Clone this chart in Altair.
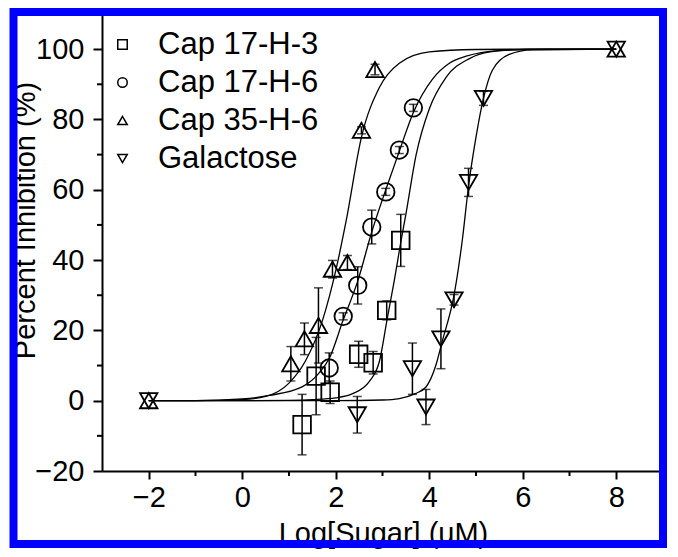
import altair as alt
import pandas as pd

series_names = ["Cap 17-H-3", "Cap 17-H-6", "Cap 35-H-6", "Galactose"]
shapes = ["square", "circle", "triangle-up", "triangle-down"]
marker_sizes = [165, 215, 310, 300]

# measured points (Log[Sugar], % inhibition, error)
sq_x = [1.28, 1.58, 1.88, 2.49, 2.80, 3.09, 3.39]
sq_y = [-6.8, 7.0, 2.4, 13.2, 10.8, 25.7, 45.6]
sq_err = [8.6, 11.0, 3.2, 3.7, 3.2, 2.7, 7.4]

ci_x = [1.86, 2.16, 2.47, 2.77, 3.07, 3.36, 3.66]
ci_y = [9.3, 24.0, 32.8, 49.4, 59.4, 71.3, 83.3]
ci_err = [4.3, 1.0, 5.3, 4.8, 1.0, 1.0, 1.0]

tu_x = [-2, 1.04, 1.33, 1.63, 1.93, 2.25, 2.55, 2.84, 8]
tu_y = [0, 10.5, 17.6, 21.4, 37.4, 39.3, 76.9, 94.2, 100]
tu_err = [0, 4.9, 4.5, 10.7, 2.5, 2.0, 1.0, 1.5, 0]

gd_x = [-2, 2.46, 3.64, 3.93, 4.25, 4.53, 4.84, 5.16, 8]
gd_y = [0, -4.0, 9.1, -1.8, 17.6, 28.7, 62.1, 86.0, 100]
gd_err = [0, 5.2, 7.3, 5.0, 8.5, 1.5, 4.0, 2.0, 0]

# fitted curves
c_sq_x = [-2, 0, 1.0, 1.5, 2.0, 2.36, 2.72, 2.93, 3.11, 3.25, 3.39, 3.5, 3.72, 4.0, 4.36, 4.86, 5.3, 6.0, 8]
c_sq_y = [0, 0, 0.1, 0.3, 0.8, 2.0, 5.5, 11, 24, 34, 45, 53, 70, 83, 92, 97.3, 99.2, 99.9, 100]

c_ci_x = [-2, -1, 0, 0.58, 1.29, 1.65, 1.86, 2.16, 2.47, 2.77, 3.07, 3.36, 3.66, 4.07, 4.43, 4.79, 5.5, 6.5, 8]
c_ci_y = [0, 0, 0.5, 1.5, 4.0, 8.0, 12, 23, 34, 48, 60, 71, 82, 91.5, 96, 98, 99.6, 100, 100]

c_tu_x = [-2, -1, 0, 0.5, 1.0, 1.36, 1.72, 2.0, 2.22, 2.55, 2.93, 3.36, 4.0, 5.0, 6.0, 8.0]
c_tu_y = [0, 0, 0.3, 1.2, 5.0, 11.5, 23, 37, 51, 75, 89, 96, 99.2, 99.9, 100, 100]

c_gd_x = [-2, 0, 2, 3, 3.36, 3.7, 3.93, 4.14, 4.28, 4.53, 4.71, 4.84, 5.0, 5.16, 5.35, 5.71, 6.2, 8]
c_gd_y = [0, 0, 0, 0.2, 0.6, 2.0, 3.9, 10, 17, 30, 46, 61, 75, 86, 94, 98.5, 99.8, 100]

x_ticks = [-2, 0, 2, 4, 6, 8]
x_minor = [-1, 1, 3, 5, 7]
y_ticks = [-20, 0, 20, 40, 60, 80, 100]
y_minor = [-10, 10, 30, 50, 70, 90]

pts = []
for name, xs, ys, es in zip(series_names, [sq_x, ci_x, tu_x, gd_x], [sq_y, ci_y, tu_y, gd_y],
                            [sq_err, ci_err, tu_err, gd_err]):
    for a, b, e in zip(xs, ys, es):
        pts.append({"series": name, "kind": name, "x": a, "y": b, "lo": b - e, "hi": b + e, "err": e})
pts = pd.DataFrame(pts)
errs = pts[pts["err"] > 0]

curves = []
for name, xs, ys in zip(series_names, [c_sq_x, c_ci_x, c_tu_x, c_gd_x], [c_sq_y, c_ci_y, c_tu_y, c_gd_y]):
    for a, b in zip(xs, ys):
        curves.append({"series": name, "x": a, "y": b})
curves = pd.DataFrame(curves)

FONT = "Liberation Sans"
xscale = alt.Scale(domain=[-3, 9], nice=False, zero=False)
yscale = alt.Scale(domain=[-20, 110], nice=False, zero=False)
xaxis = alt.Axis(values=x_ticks, tickSize=8, labelPadding=4, title="Log[Sugar] (uM)",
                 titleX=281, titleY=71, titleBaseline="alphabetic", labelFlush=False,
                 labelOverlap=False, grid=False)
yaxis = alt.Axis(values=y_ticks, tickSize=9, labelPadding=9, title="Percent Inhibition (%)",
                 titleX=-68, titleY=206, titleBaseline="alphabetic", titleAngle=270,
                 titleAlign="center", labelFlush=False, labelOverlap=False, grid=False)

X = alt.X("x:Q", scale=xscale, axis=xaxis)
Y = alt.Y("y:Q", scale=yscale, axis=yaxis)

line = alt.Chart(curves).mark_line(interpolate="monotone", color="black", strokeWidth=1.3).encode(
    x=X, y=Y, detail="series:N")

rule = alt.Chart(errs).mark_rule(color="black", strokeWidth=1.5).encode(
    x=X, y=alt.Y("lo:Q", scale=yscale, axis=yaxis), y2="hi:Q")
cap_lo = alt.Chart(errs).mark_tick(orient="horizontal", color="black", size=9, thickness=1.5).encode(
    x=X, y=alt.Y("lo:Q", scale=yscale, axis=yaxis))
cap_hi = alt.Chart(errs).mark_tick(orient="horizontal", color="black", size=9, thickness=1.5).encode(
    x=X, y=alt.Y("hi:Q", scale=yscale, axis=yaxis))

# size scale domain given in a different order so that its (disabled) legend
# is not merged with the shape legend
size_domain = list(reversed(series_names))
size_range = list(reversed(marker_sizes))

points = alt.Chart(pts).mark_point(filled=False, color="black", strokeWidth=1.8, opacity=1).encode(
    x=X, y=Y,
    shape=alt.Shape("series:N", scale=alt.Scale(domain=series_names, range=shapes),
                    legend=alt.Legend(orient="none", legendX=5, legendY=15, title=None,
                                      labelFontSize=31, labelFont=FONT, labelColor="black",
                                      labelLimit=400,
                                      symbolSize=90, symbolStrokeWidth=1.5,
                                      symbolStrokeColor="black",
                                      rowPadding=6, labelOffset=20)),
    size=alt.Size("kind:N", scale=alt.Scale(domain=size_domain, range=size_range), legend=None),
)

xm = alt.Chart(pd.DataFrame({"x": x_minor})).mark_rule(color="black", strokeWidth=2).encode(
    x=X, y=alt.value(457), y2=alt.value(462))
ym = alt.Chart(pd.DataFrame({"y": y_minor})).mark_rule(color="black", strokeWidth=2).encode(
    y=Y, x=alt.value(0), x2=alt.value(-5))

frame = alt.Chart(pd.DataFrame({"a": [0]})).mark_rect(
    fill="transparent", stroke="#0000ff", strokeWidth=8).encode(
    x=alt.value(-88.5), x2=alt.value(561), y=alt.value(-2), y2=alt.value(530))

chart = alt.layer(line, rule, cap_lo, cap_hi, points, xm, ym, frame).properties(
    width=561, height=457,
    autosize=alt.AutoSizeParams(type="none"),
    padding={"left": 94, "top": 6, "right": 7, "bottom": 78},
).configure(background="white").configure_view(stroke=None).configure_axis(
    labelFont=FONT, titleFont=FONT, labelFontSize=29, titleFontSize=29,
    titleFontWeight="normal", labelColor="black", titleColor="black",
    domainColor="black", tickColor="black", domainWidth=2, tickWidth=2,
)

chart.save("out.html", embed_options={"renderer": "svg", "actions": False})
